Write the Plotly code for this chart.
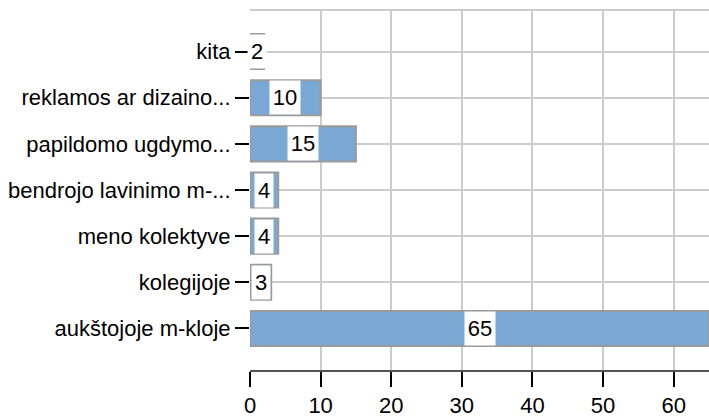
import plotly.graph_objects as go

categories = ["aukštojoje m-kloje", "kolegijoje", "meno kolektyve",
              "bendrojo lavinimo m-...", "papildomo ugdymo...",
              "reklamos ar dizaino...", "kita"]
values = [65, 3, 4, 4, 15, 10, 2]
x_ticks = [0, 10, 20, 30, 40, 50, 60]

FONT = "Liberation Sans, Arial, sans-serif"
FS = 22

fig = go.Figure()
fig.add_trace(go.Bar(
    y=categories, x=values, orientation="h",
    marker=dict(color="#7aa8d5", line=dict(color="#9a9a9a", width=2)),
    width=0.76, hoverinfo="skip",
))

for c, v in zip(categories, values):
    fig.add_annotation(
        x=v / 2, y=c, xref="x", yref="y", text=str(v), showarrow=False,
        bgcolor="white", borderpad=0, height=33, width=len(str(v)) * 12 + 6,
        font=dict(family=FONT, size=FS, color="black"),
    )

fig.add_shape(type="line", xref="paper", yref="paper", x0=0, x1=1, y0=1, y1=1,
              line=dict(color="#cccccc", width=2))

fig.update_layout(
    width=709, height=418,
    margin=dict(l=250, r=0, t=10, b=43),
    paper_bgcolor="white", plot_bgcolor="white",
    showlegend=False,
    font=dict(family=FONT, size=FS, color="black"),
    xaxis=dict(range=[0, 65], tickvals=x_ticks, showgrid=True,
               gridcolor="#cccccc", gridwidth=2, zeroline=False,
               showline=True, linecolor="#555555", linewidth=2,
               ticks="outside", ticklen=15, tickwidth=2, tickcolor="black",
               tickfont=dict(family=FONT, size=FS, color="black")),
    yaxis=dict(range=[-0.9, 6.9], categoryorder="array", categoryarray=categories,
               showgrid=True, gridcolor="#cccccc", gridwidth=2, zeroline=False,
               showline=False,
               ticks="outside", ticklen=14, tickwidth=2, tickcolor="black",
               tickfont=dict(family=FONT, size=FS, color="black")),
)

fig.write_html("out.html", config={"displayModeBar": False, "staticPlot": True},
               post_script="document.body.style.margin='0';document.body.style.overflow='hidden';")
